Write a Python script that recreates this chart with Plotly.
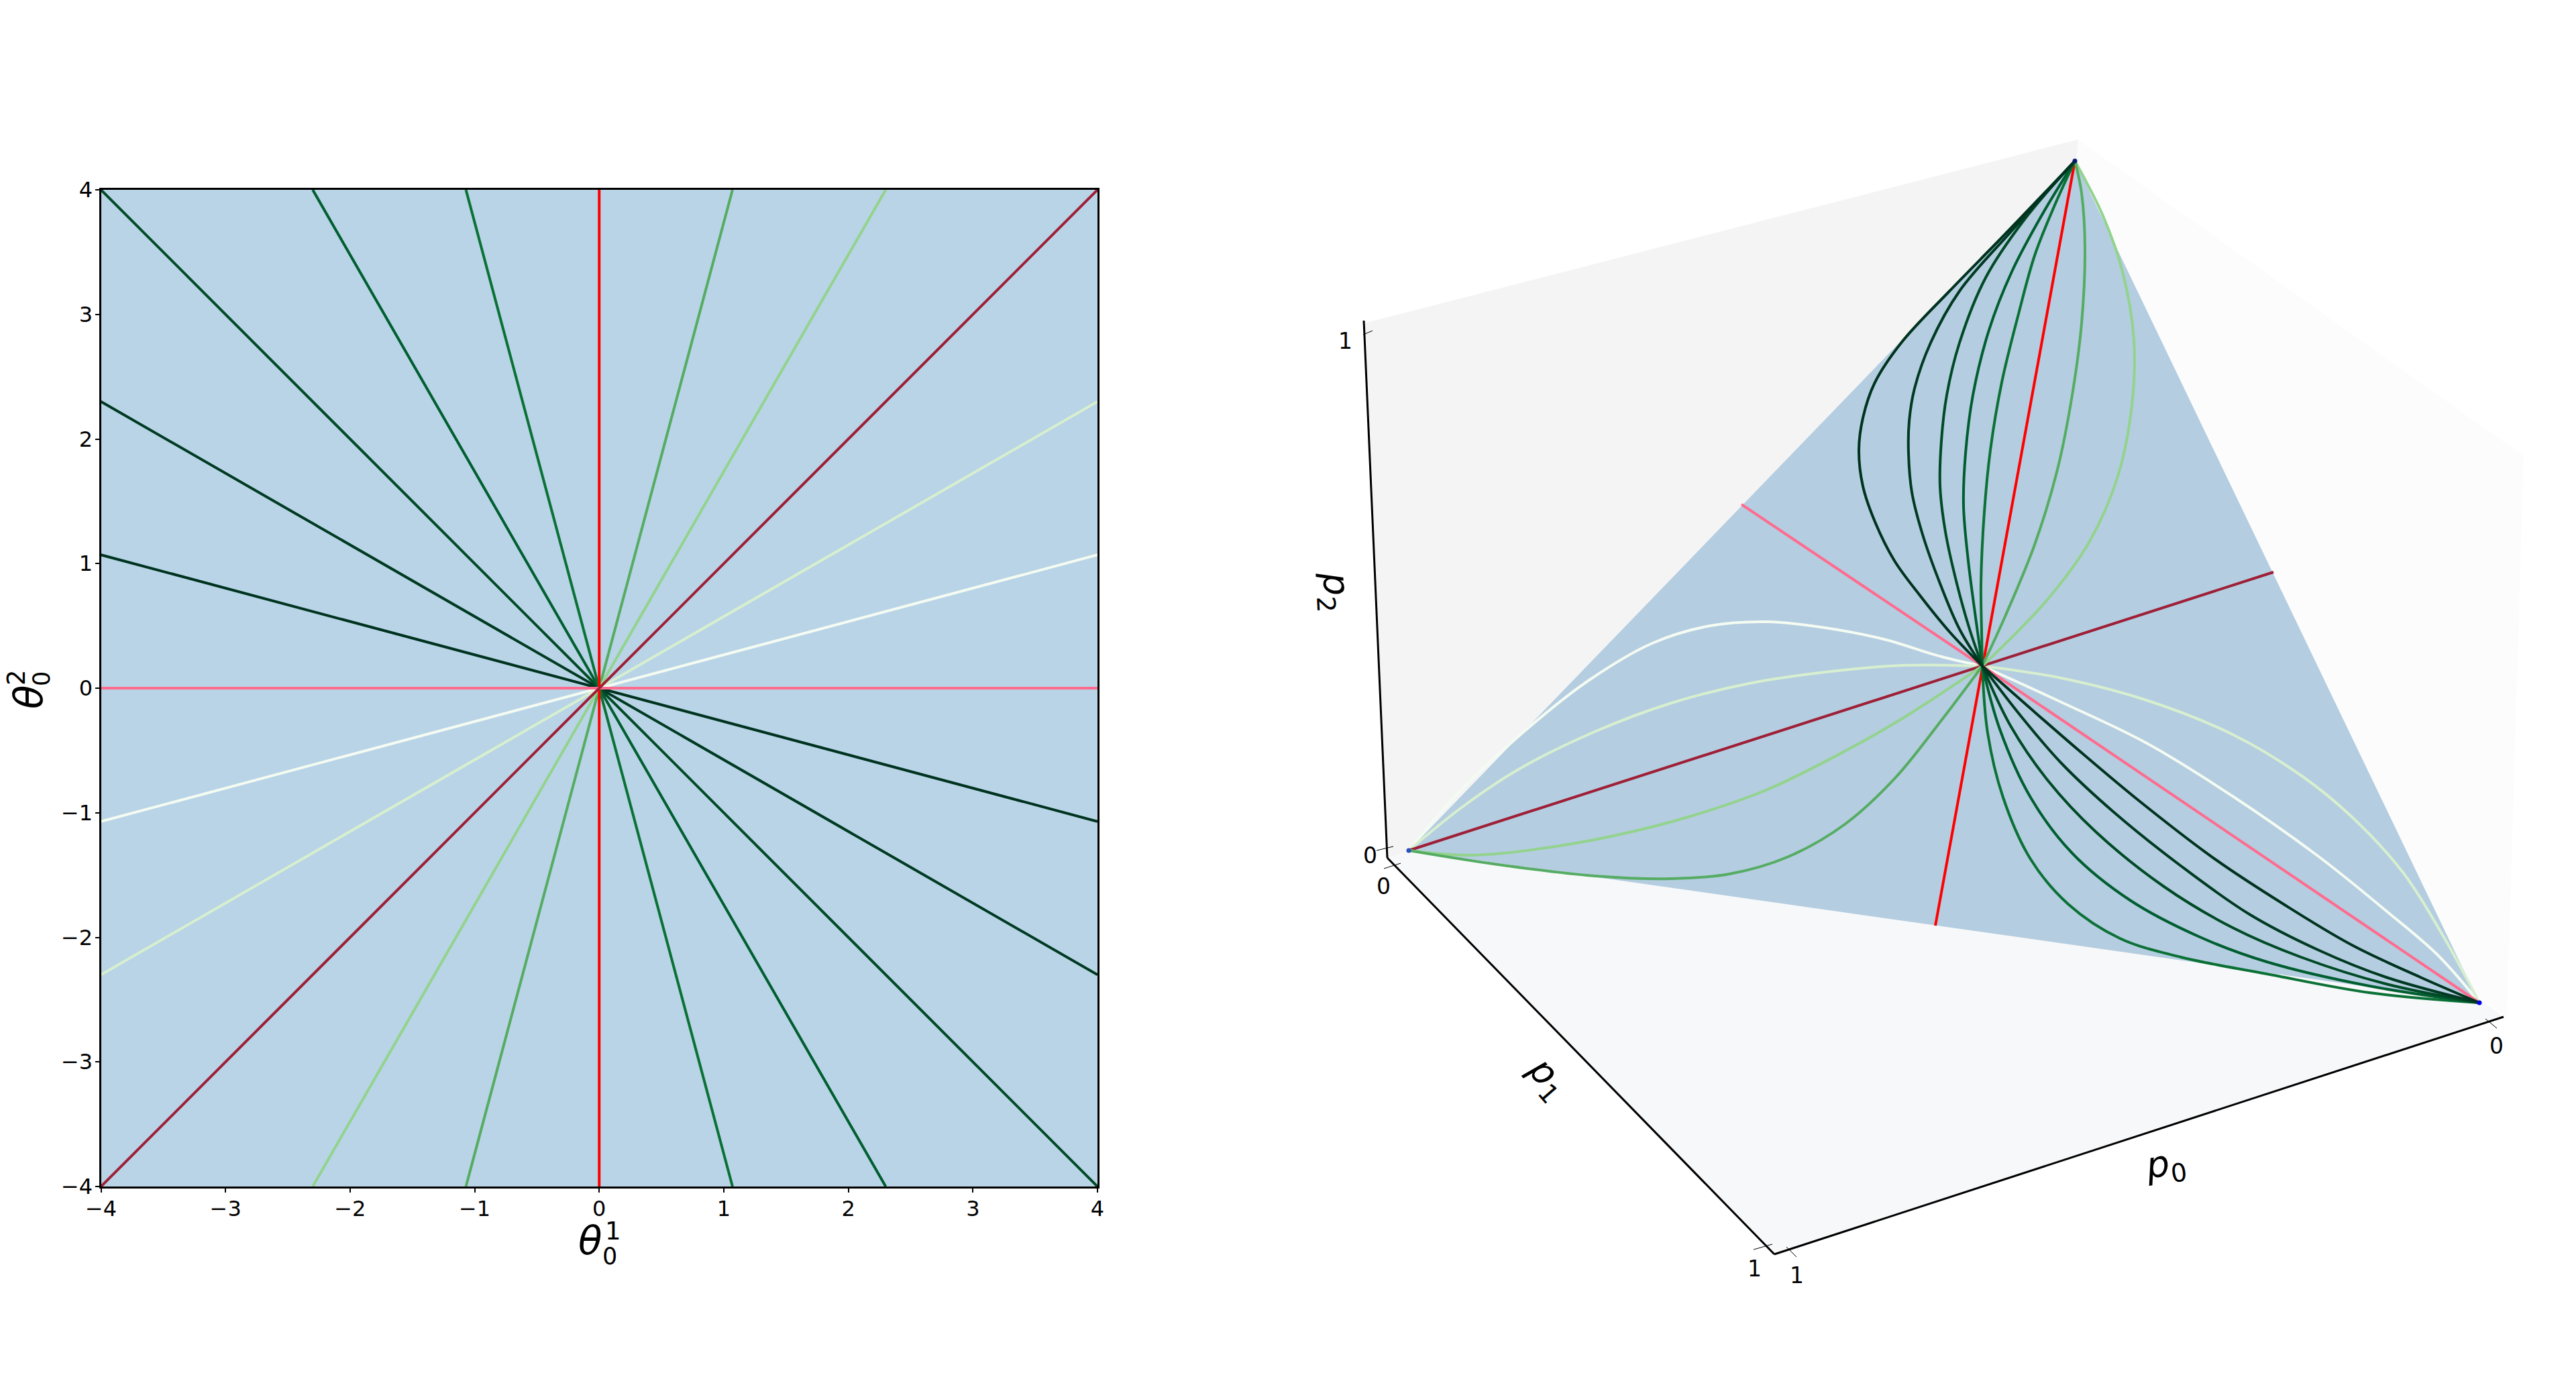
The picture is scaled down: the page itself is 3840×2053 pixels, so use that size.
import plotly.graph_objects as go

FONT = "DejaVu Sans"
W, H = 3840, 2053

# ── left panel: lines through the origin ─────────────────────────────────────
ticks_left = [-4, -3, -2, -1, 0, 1, 2, 3, 4]
bg_x = [-4, 4, 4, -4, -4]
bg_y = [-4, -4, 4, 4, -4]

# direction (theta1, theta2) of each line, one end; the other end is mirrored
theta1_end = [-4, -4, -4, -2.3, -1.07, 1.07, 2.3, 4, 4, 0, 4, 4]
theta2_end = [1.07, 2.3, 4, 4, 4, 4, 4, 2.3, 1.07, 4, 0, 4]
line_colors = ["#00331f", "#003a22", "#004a26", "#005e30", "#0b7136", "#55ac62",
               "#93d38d", "#d7efcf", "#f4fbf2", "#ff0000", "#ff6b8e", "#9e1f36"]

# ── right panel: values as seen on the picture ───────────────────────────────
wall_left_x = [2068, 2033, 3098, 3040]
wall_left_y = [1279, 482, 208, 1000]
wall_floor_x = [2068, 2645, 3732, 3040]
wall_floor_y = [1279, 1870, 1516, 1000]
wall_right_x = [3098, 3762, 3737, 3040]
wall_right_y = [208, 680, 1516, 1000]

simplex_x = [3093, 2100, 3696, 3093]
simplex_y = [240, 1268, 1495, 240]

red_x = [3093, 2955, 2885]
red_y = [240, 993, 1380]
darkred_x = [2100, 2955, 3389]
darkred_y = [1268, 993, 853]
pink_x = [3696, 2955, 2596]
pink_y = [1495, 993, 752]

# curves from the top vertex to the centre
u1_x = [3093, 2989, 2906, 2835, 2795, 2777, 2771, 2777, 2795, 2824, 2863, 2907, 2955]
u1_y = [240, 349, 434, 510, 570, 623, 671, 725, 778, 836, 889, 943, 993]
u2_x = [3093, 2999, 2921, 2878, 2854, 2846, 2845, 2850, 2866, 2892, 2921, 2955]
u2_y = [240, 344, 434, 511, 579, 628, 676, 734, 797, 870, 938, 993]
u3_x = [3093, 3018, 2960, 2921, 2902, 2894, 2892, 2900, 2917, 2936, 2955]
u3_y = [240, 327, 414, 511, 589, 657, 725, 793, 870, 938, 993]
u4_x = [3093, 3043, 2999, 2965, 2941, 2930, 2927, 2934, 2946, 2955]
u4_y = [240, 322, 405, 492, 589, 676, 754, 836, 928, 993]
u5_x = [3093, 3062, 3033, 3009, 2984, 2967, 2958, 2953, 2954, 2955]
u5_y = [240, 308, 381, 468, 570, 671, 763, 870, 943, 993]
u6_x = [3093, 3103, 3108, 3103, 3089, 3067, 3033, 2989, 2955]
u6_y = [240, 288, 371, 482, 589, 700, 812, 919, 993]
u7_x = [3093, 3135, 3164, 3181, 3178, 3157, 3115, 3052, 2955]
u7_y = [240, 322, 405, 507, 604, 710, 807, 894, 993]

# curves from the centre to the right vertex
d1_x = [2955, 3022, 3098, 3190, 3302, 3404, 3506, 3608, 3696]
d1_y = [993, 1052, 1118, 1195, 1281, 1348, 1409, 1457, 1495]
d2_x = [2955, 3012, 3073, 3150, 3251, 3353, 3455, 3557, 3696]
d2_y = [993, 1067, 1138, 1210, 1291, 1363, 1416, 1457, 1495]
d3_x = [2955, 2997, 3053, 3124, 3226, 3328, 3430, 3557, 3696]
d3_y = [993, 1082, 1164, 1240, 1322, 1383, 1427, 1467, 1495]
d4_x = [2955, 2981, 3027, 3088, 3175, 3277, 3379, 3532, 3696]
d4_y = [993, 1087, 1189, 1271, 1342, 1396, 1434, 1470, 1495]
d5_x = [2955, 2963, 2986, 3027, 3083, 3160, 3251, 3379, 3532, 3696]
d5_y = [993, 1093, 1189, 1281, 1348, 1399, 1427, 1452, 1480, 1495]
white_r_x = [2955, 3073, 3200, 3328, 3455, 3557, 3634, 3696]
white_r_y = [993, 1047, 1108, 1187, 1276, 1358, 1424, 1495]
pale_r_x = [2955, 3073, 3200, 3328, 3430, 3506, 3583, 3644, 3696]
pale_r_y = [993, 1011, 1044, 1095, 1156, 1218, 1302, 1399, 1495]

# curves from the left vertex to the centre
white_l_x = [2100, 2176, 2282, 2366, 2463, 2549, 2635, 2721, 2808, 2894, 2955]
white_l_y = [1268, 1180, 1082, 1016, 959, 933, 927, 936, 953, 979, 993]
pale_l_x = [2100, 2176, 2262, 2377, 2492, 2607, 2721, 2836, 2955]
pale_l_y = [1268, 1206, 1148, 1091, 1048, 1019, 1002, 992, 993]
ll2_x = [2100, 2193, 2291, 2406, 2520, 2635, 2750, 2836, 2955]
ll2_y = [1268, 1275, 1266, 1246, 1217, 1177, 1120, 1071, 993]
ll1_x = [2100, 2233, 2377, 2492, 2578, 2664, 2750, 2825, 2894, 2955]
ll1_y = [1268, 1289, 1306, 1310, 1303, 1278, 1229, 1160, 1074, 993]

vertex_x = [3093, 2100, 3696]
vertex_y = [240, 1268, 1495]
vertex_colors = ["#0a1a70", "#2a4fc0", "#0000f0"]

axis_z_x = [2068, 2033]
axis_z_y = [1279, 478]
axis_p1_x = [2068, 2645]
axis_p1_y = [1279, 1870]
axis_p0_x = [2645, 3732]
axis_p0_y = [1870, 1516]

tick_x = [[2032, 2046], [2052, 2077], [2063, 2088], [2614, 2642], [2663, 2678], [3705, 3722]]
tick_y = [[499, 493], [1268, 1262], [1295, 1287], [1863, 1855], [1859, 1874], [1519, 1533]]
tick_text = ["1", "0", "0", "1", "1", "0"]
tick_text_x = [2005, 2042, 2062, 2615, 2678, 3721]
tick_text_y = [508, 1275, 1321, 1891, 1901, 1559]

fig = go.Figure()

# left panel
fig.add_trace(go.Scatter(x=bg_x, y=bg_y, mode="lines", fill="toself", fillcolor="#b8d4e6",
                         line=dict(width=0), xaxis="x", yaxis="y"))
for a, b, c in zip(theta1_end, theta2_end, line_colors):
    fig.add_trace(go.Scatter(x=[-a, a], y=[-b, b], mode="lines", line=dict(color=c, width=4),
                             xaxis="x", yaxis="y"))


def add_right(x, y, color, width=4, shape="spline"):
    fig.add_trace(go.Scatter(x=x, y=y, mode="lines", xaxis="x2", yaxis="y2",
                             line=dict(color=color, width=width, shape=shape, smoothing=1)))


# right panel: walls, simplex
for wx, wy, c in [(wall_left_x, wall_left_y, "#f4f4f5"),
                  (wall_floor_x, wall_floor_y, "#f7f8f9"),
                  (wall_right_x, wall_right_y, "#fcfcfc")]:
    fig.add_trace(go.Scatter(x=wx, y=wy, mode="lines", fill="toself", fillcolor=c,
                             line=dict(width=0), xaxis="x2", yaxis="y2"))
fig.add_trace(go.Scatter(x=simplex_x, y=simplex_y, mode="lines", fill="toself", fillcolor="#b4cde0",
                         line=dict(width=0), xaxis="x2", yaxis="y2"))

# axes of the box
add_right(axis_z_x, axis_z_y, "black", 3, "linear")
add_right(axis_p1_x, axis_p1_y, "black", 3, "linear")
add_right(axis_p0_x, axis_p0_y, "black", 3, "linear")
for tx, ty in zip(tick_x, tick_y):
    add_right(tx, ty, "black", 1, "linear")

# curves
add_right(white_l_x, white_l_y, line_colors[8])
add_right(white_r_x, white_r_y, line_colors[8])
add_right(pale_l_x, pale_l_y, line_colors[7])
add_right(pale_r_x, pale_r_y, line_colors[7])
add_right(pink_x, pink_y, line_colors[10], 4, "linear")
add_right(darkred_x, darkred_y, line_colors[11], 4, "linear")
add_right(red_x, red_y, line_colors[9], 4, "linear")
add_right(u7_x, u7_y, line_colors[6])
add_right(ll2_x, ll2_y, line_colors[6])
add_right(u6_x, u6_y, line_colors[5])
add_right(ll1_x, ll1_y, line_colors[5])
add_right(u5_x, u5_y, line_colors[4])
add_right(d5_x, d5_y, line_colors[4])
add_right(u4_x, u4_y, line_colors[3])
add_right(d4_x, d4_y, line_colors[3])
add_right(u3_x, u3_y, line_colors[2])
add_right(d3_x, d3_y, line_colors[2])
add_right(u2_x, u2_y, line_colors[1])
add_right(d2_x, d2_y, line_colors[1])
add_right(u1_x, u1_y, line_colors[0])
add_right(d1_x, d1_y, line_colors[0])

fig.add_trace(go.Scatter(x=vertex_x, y=vertex_y, mode="markers", xaxis="x2", yaxis="y2",
                         marker=dict(color=vertex_colors, size=7)))

annotations = []
for t, x, y in zip(tick_text, tick_text_x, tick_text_y):
    annotations.append(dict(text=t, x=x, y=y, xref="x2", yref="y2", showarrow=False,
                            font=dict(family=FONT, size=33, color="black")))
# axis titles of the right panel
for t, x, y, ang in [("<i>p</i><sub>0</sub>", 3228, 1738, -8),
                     ("<i>p</i><sub>1</sub>", 2306, 1608, 49),
                     ("<i>p</i><sub>2</sub>", 1989, 882, 87)]:
    annotations.append(dict(text=t, x=x, y=y, xref="x2", yref="y2", showarrow=False, textangle=ang,
                            font=dict(family=FONT, size=54, color="black")))
# axis titles of the left panel: symbol, superscript and subscript stacked
for t, x, y, size, ang in [("<i>θ</i>", 880, 1850, 58, 0), ("1", 914, 1835, 37, 0), ("0", 909, 1873, 35, 0),
                           ("<i>θ</i>", 43, 1039, 58, -90), ("2", 24, 1010, 37, -90), ("0", 62, 1012, 35, -90)]:
    annotations.append(dict(text=t, x=x / W, y=1 - y / H, xref="paper", yref="paper", showarrow=False,
                            xanchor="center", yanchor="middle", textangle=ang,
                            font=dict(family=FONT, size=size, color="black")))

axis_style = dict(tickmode="array", tickvals=ticks_left, showgrid=False, zeroline=False, automargin=False,
                  showline=True, mirror=True, linecolor="black", linewidth=3,
                  ticks="outside", ticklen=6, tickwidth=2, tickcolor="black", ticklabelstandoff=-3,
                  tickfont=dict(family=FONT, size=32, color="black"))

fig.update_layout(
    width=W, height=H, margin=dict(l=0, r=0, t=0, b=0, autoexpand=False), showlegend=False,
    paper_bgcolor="white", plot_bgcolor="white", annotations=annotations,
    xaxis=dict(domain=[150.5 / W, 1636 / W], range=[-4, 4], **axis_style),
    yaxis=dict(domain=[1 - 1769 / H, 1 - 283 / H], range=[-4, 4], **axis_style),
    xaxis2=dict(domain=[0.5, 1], range=[1920, 3840], visible=False, automargin=False),
    yaxis2=dict(domain=[0, 1], range=[H, 0], visible=False, anchor="x2", automargin=False),
)

fig.write_html("out.html", config=dict(displayModeBar=False),
               post_script="document.body.style.margin='0';")
